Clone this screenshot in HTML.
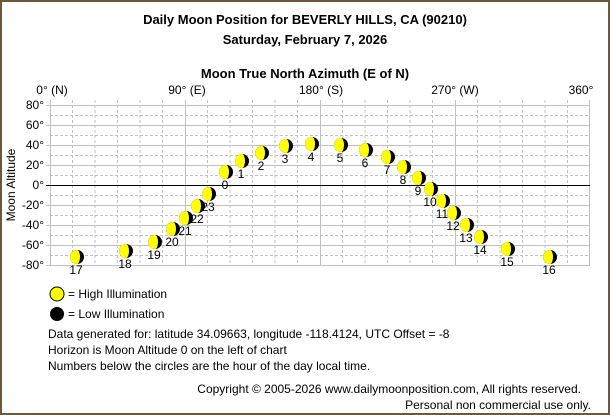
<!DOCTYPE html>
<html><head><meta charset="utf-8"><style>
html,body{margin:0;padding:0;background:#fff}
svg{display:block}
text{font-family:"Liberation Sans",sans-serif;font-size:12px;fill:#000}
</style></head><body>
<svg width="610" height="415" viewBox="0 0 610 415" xmlns="http://www.w3.org/2000/svg">
<rect x="1" y="1" width="608" height="413" fill="#fff" stroke="#6b5a3a" stroke-width="2"/>
<text x="305" y="24" text-anchor="middle" font-weight="bold" style="font-size:13px">Daily Moon Position for BEVERLY HILLS, CA (90210)</text>
<text x="305" y="44" text-anchor="middle" font-weight="bold" style="font-size:13px">Saturday, February 7, 2026</text>
<text x="305" y="78" text-anchor="middle" font-weight="bold" style="font-size:13px">Moon True North Azimuth (E of N)</text>
<g text-anchor="middle">
<text x="52" y="94">0° (N)</text><text x="187" y="94">90° (E)</text><text x="321" y="94">180° (S)</text><text x="455" y="94">270° (W)</text><text x="581" y="94">360°</text>
</g>
<g stroke="#c0c0c0" stroke-width="1">
<g stroke-dasharray="3,2">
<path d="M72.5 100V265M95 100V265M117.5 100V265M140 100V265M162.5 100V265M207.5 100V265M230 100V265M252.5 100V265M275 100V265M297.5 100V265M342.5 100V265M365 100V265M387.5 100V265M410 100V265M432.5 100V265M477.5 100V265M500 100V265M522.5 100V265M545 100V265M567.5 100V265"/>
<path d="M50 115.5H590M50 135.5H590M50 155.5H590M50 175.5H590M50 195.5H590M50 215.5H590M50 235.5H590M50 255.5H590"/>
</g>
<path d="M50.5 100V265M185.5 100V265M320.5 100V265M455.5 100V265M589.5 100V265"/>
<path d="M46 105.5H590M46 125.5H590M46 145.5H590M46 165.5H590M46 205.5H590M46 225.5H590M46 245.5H590M46 265.5H590"/>
</g>
<path d="M46 185.5H590" stroke="#000" stroke-width="1"/>
<g text-anchor="end">
<text x="44" y="109">80°</text><text x="44" y="129">60°</text><text x="44" y="149">40°</text><text x="44" y="169">20°</text><text x="44" y="189">0°</text><text x="44" y="209">-20°</text><text x="44" y="229">-40°</text><text x="44" y="249">-60°</text><text x="44" y="269">-80°</text>
</g>
<text transform="translate(15,185) rotate(-90)" text-anchor="middle">Moon Altitude</text>
<defs>
<g id="m"><circle r="7" fill="#000"/><path d="M0 -7A7 7 0 0 0 0 7A3 7 0 0 0 0 -7Z" fill="#ffff00"/></g>
</defs>
<g>
<use href="#m" x="77" y="257"/><use href="#m" x="126" y="251"/><use href="#m" x="155" y="242"/><use href="#m" x="173" y="229"/><use href="#m" x="186" y="218"/><use href="#m" x="198" y="206"/><use href="#m" x="209" y="194"/><use href="#m" x="226" y="172"/><use href="#m" x="242" y="161"/><use href="#m" x="262" y="153"/><use href="#m" x="286" y="146"/><use href="#m" x="312" y="144"/><use href="#m" x="341" y="145"/><use href="#m" x="366" y="150"/><use href="#m" x="388" y="157"/><use href="#m" x="404" y="167"/><use href="#m" x="419" y="178"/><use href="#m" x="431" y="189"/><use href="#m" x="443" y="201"/><use href="#m" x="454" y="213"/><use href="#m" x="467" y="225"/><use href="#m" x="481" y="237"/><use href="#m" x="508" y="249"/><use href="#m" x="550" y="257"/>
</g>
<g text-anchor="middle">
<text x="76" y="274">17</text><text x="125" y="268">18</text><text x="154" y="259">19</text><text x="172" y="246">20</text><text x="185" y="235">21</text><text x="197" y="223">22</text><text x="208" y="211">23</text><text x="225" y="189">0</text><text x="241" y="178">1</text><text x="261" y="170">2</text><text x="285" y="163">3</text><text x="311" y="161">4</text><text x="340" y="162">5</text><text x="365" y="167">6</text><text x="387" y="174">7</text><text x="403" y="184">8</text><text x="418" y="195">9</text><text x="430" y="206">10</text><text x="442" y="218">11</text><text x="453" y="230">12</text><text x="466" y="242">13</text><text x="480" y="254">14</text><text x="507" y="266">15</text><text x="549" y="274">16</text>
</g>
<circle cx="57" cy="294" r="7" fill="#ffff00" stroke="#000" stroke-width="1"/>
<circle cx="57" cy="314" r="7" fill="#000"/>
<text x="68" y="298">= High Illumination</text>
<text x="68" y="318">= Low Illumination</text>
<text x="48" y="338">Data generated for: latitude 34.09663, longitude -118.4124, UTC Offset = -8</text>
<text x="48" y="354">Horizon is Moon Altitude 0 on the left of chart</text>
<text x="48" y="370">Numbers below the circles are the hour of the day local time.</text>
<text x="581" y="393" text-anchor="end">Copyright © 2005-2026 www.dailymoonposition.com, All rights reserved.</text>
<text x="591" y="409" text-anchor="end">Personal non commercial use only.</text>
</svg>
</body></html>
